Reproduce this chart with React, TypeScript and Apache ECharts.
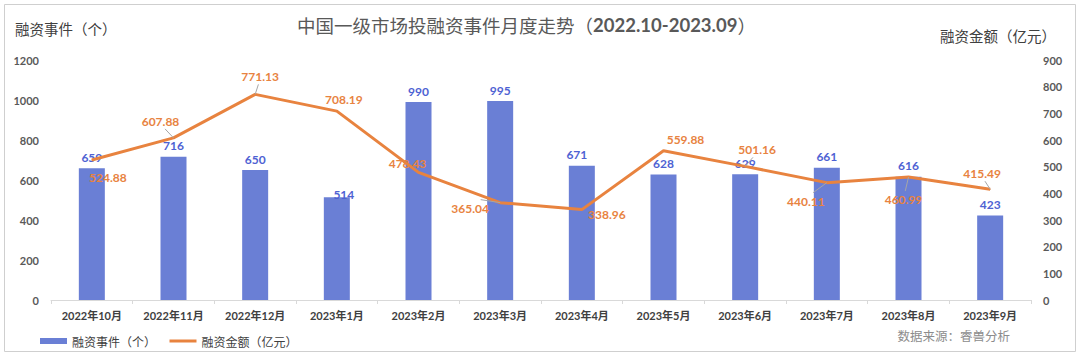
import React, { useEffect, useRef } from "react";
import * as echarts from "echarts";

const categories = [
  "2022年10月", "2022年11月", "2022年12月", "2023年1月", "2023年2月", "2023年3月",
  "2023年4月", "2023年5月", "2023年6月", "2023年7月", "2023年8月", "2023年9月",
];
const eventCounts = [659, 716, 650, 514, 990, 995, 671, 628, 629, 661, 616, 423];
const amounts = [524.88, 607.88, 771.13, 708.19, 478.43, 365.04, 338.96, 559.88, 501.16, 440.11, 460.99, 415.49];
const leftTicks = [0, 200, 400, 600, 800, 1000, 1200];
const rightTicks = [0, 100, 200, 300, 400, 500, 600, 700, 800, 900];

const amountLabelShift: [number, number][] = [
  [16, 29], [-13, -5], [5, -6], [7, 0], [-11, 3], [-30, 17],
  [25, 16], [22, 0], [12, -5], [-21, 30], [-5, 34], [-8, -4],
];
const amountLeader = [false, true, true, false, false, true, false, false, true, true, true, true];
const countLabelShift: [number, number][] = [
  [0, 0], [0, 0], [0, 0], [7, 8], [0, 0], [0, 0],
  [-5, 0], [0, 0], [0, 0], [0, 0], [0, 0], [0, 0],
];

const NUM_FONT = "Lato, 'Noto Sans CJK SC', sans-serif";
const CJK_FONT = "'Noto Sans CJK SC', sans-serif";

export default function App() {
  const ref = useRef<HTMLDivElement>(null);
  useEffect(() => {
    if (!ref.current) return;
    const chart = echarts.init(ref.current, undefined, { renderer: "svg" });
    const barColor = "#6A7FD5";
    const lineColor = "#E8833F";
    const baseGraphics: any[] = [
      {
        id: "frame",
        type: "rect",
        shape: { x: 4.5, y: 4.5, width: 1071, height: 347 },
        style: { fill: "none", stroke: "#cfcfcf", lineWidth: 1 },
        silent: true,
      },
      {
        id: "yname-left",
        type: "text",
        left: 15,
        top: 21,
        style: { text: "融资事件（个）", fill: "#404040", font: "14.5px 'Noto Sans CJK SC', sans-serif" },
      },
      {
        id: "yname-right",
        type: "text",
        right: 24,
        top: 28,
        style: { text: "融资金额（亿元）", fill: "#404040", font: "14.5px 'Noto Sans CJK SC', sans-serif" },
      },
      {
        id: "source",
        type: "text",
        right: 70,
        top: 329,
        style: { text: "数据来源：睿兽分析", fill: "#8c8c8c", font: "12.5px 'Noto Sans CJK SC', sans-serif" },
      },
    ];
    chart.setOption({
      animation: false,
      backgroundColor: "#ffffff",
      title: {
        text: "{a|中国一级市场投融资事件月度走势（}{b|2022.10-2023.09}{a|）}",
        left: 292,
        top: 11,
        textStyle: {
          fontWeight: "normal",
          rich: {
            a: { fontSize: 18.5, color: "#595959", fontFamily: CJK_FONT, fontWeight: "normal" },
            b: { fontSize: 18.5, color: "#595959", fontFamily: NUM_FONT, fontWeight: "bold" },
          },
        },
      },
      grid: { left: 51, right: 49, top: 60, bottom: 57, containLabel: false },
      legend: {
        left: 35,
        top: 330,
        itemWidth: 27,
        itemHeight: 6,
        itemGap: 12,
        textStyle: { fontSize: 12, color: "#404040", fontFamily: CJK_FONT },
        data: [
          { name: "融资事件（个）", icon: "rect" },
          { name: "融资金额（亿元）", itemStyle: { opacity: 0 }, lineStyle: { width: 3 } },
        ],
      },
      xAxis: {
        type: "category",
        data: categories,
        axisLine: { lineStyle: { color: "#d9d9d9" } },
        axisTick: { show: true, length: 4, lineStyle: { color: "#d9d9d9" } },
        axisLabel: {
          color: "#404040",
          fontSize: 11,
          fontWeight: "bold",
          fontFamily: NUM_FONT,
          margin: 10,
          interval: 0,
        },
      },
      yAxis: [
        {
          type: "value",
          min: leftTicks[0],
          max: leftTicks[leftTicks.length - 1],
          interval: 200,
          splitLine: { show: false },
          axisLine: { show: false },
          axisTick: { show: false },
          axisLabel: {
            color: "#595959", fontSize: 11, fontWeight: "bold", fontFamily: NUM_FONT, margin: 12,
            formatter: (v: number) => String(v),
          },
        },
        {
          type: "value",
          min: rightTicks[0],
          max: rightTicks[rightTicks.length - 1],
          interval: 100,
          splitLine: { show: false },
          axisLine: { show: false },
          axisTick: { show: false },
          axisLabel: {
            color: "#595959", fontSize: 11, fontWeight: "bold", fontFamily: NUM_FONT, margin: 12,
            formatter: (v: number) => String(v),
          },
        },
      ],
      series: [
        {
          name: "融资事件（个）",
          type: "bar",
          barWidth: 26,
          itemStyle: { color: barColor },
          data: eventCounts.map((v, i) => ({
            value: v,
            label: { offset: countLabelShift[i] },
          })),
          label: {
            show: true,
            position: "top",
            distance: 5,
            color: "#4E62D3",
            fontSize: 12,
            fontWeight: "bold",
            fontFamily: NUM_FONT,
          },
          z: 2,
        },
        {
          name: "融资金额（亿元）",
          type: "line",
          yAxisIndex: 1,
          symbol: "circle",
          symbolSize: 1,
          showSymbol: true,
          lineStyle: { color: lineColor, width: 3 },
          itemStyle: { color: lineColor },
          data: amounts,
          label: {
            show: true,
            position: "top",
            distance: 5,
            color: "#E8833F",
            fontSize: 12,
            fontWeight: "bold",
            fontFamily: NUM_FONT,
          },
          labelLayout: (p: any) => ({
            dx: amountLabelShift[p.dataIndex][0],
            dy: amountLabelShift[p.dataIndex][1],
          }),
          z: 3,
        },
      ],
      graphic: baseGraphics,
    });

    // leader lines from shifted amount labels to their data points
    const leaders: any[] = [];
    amounts.forEach((v, i) => {
      if (!amountLeader[i]) return;
      const p = chart.convertToPixel({ seriesIndex: 1 }, [i, v]) as number[];
      if (!p || isNaN(p[0]) || isNaN(p[1])) return;
      const cx = p[0] + amountLabelShift[i][0];
      const cy = p[1] - 12 + amountLabelShift[i][1];
      const sy = cy + (p[1] > cy ? 8 : -8);
      leaders.push({
        id: "leader-" + i,
        type: "line",
        silent: true,
        z: 100,
        shape: { x1: cx + (p[0] - cx) * 0.35, y1: sy, x2: p[0], y2: p[1] },
        style: { stroke: "#a6a6a6", lineWidth: 1 },
      });
    });
    if (leaders.length) chart.setOption({ graphic: leaders });
    return () => chart.dispose();
  }, []);
  return (
    <div
      ref={ref}
      style={{ position: "fixed", left: 0, top: 0, width: 1080, height: 357 }}
    />
  );
}
